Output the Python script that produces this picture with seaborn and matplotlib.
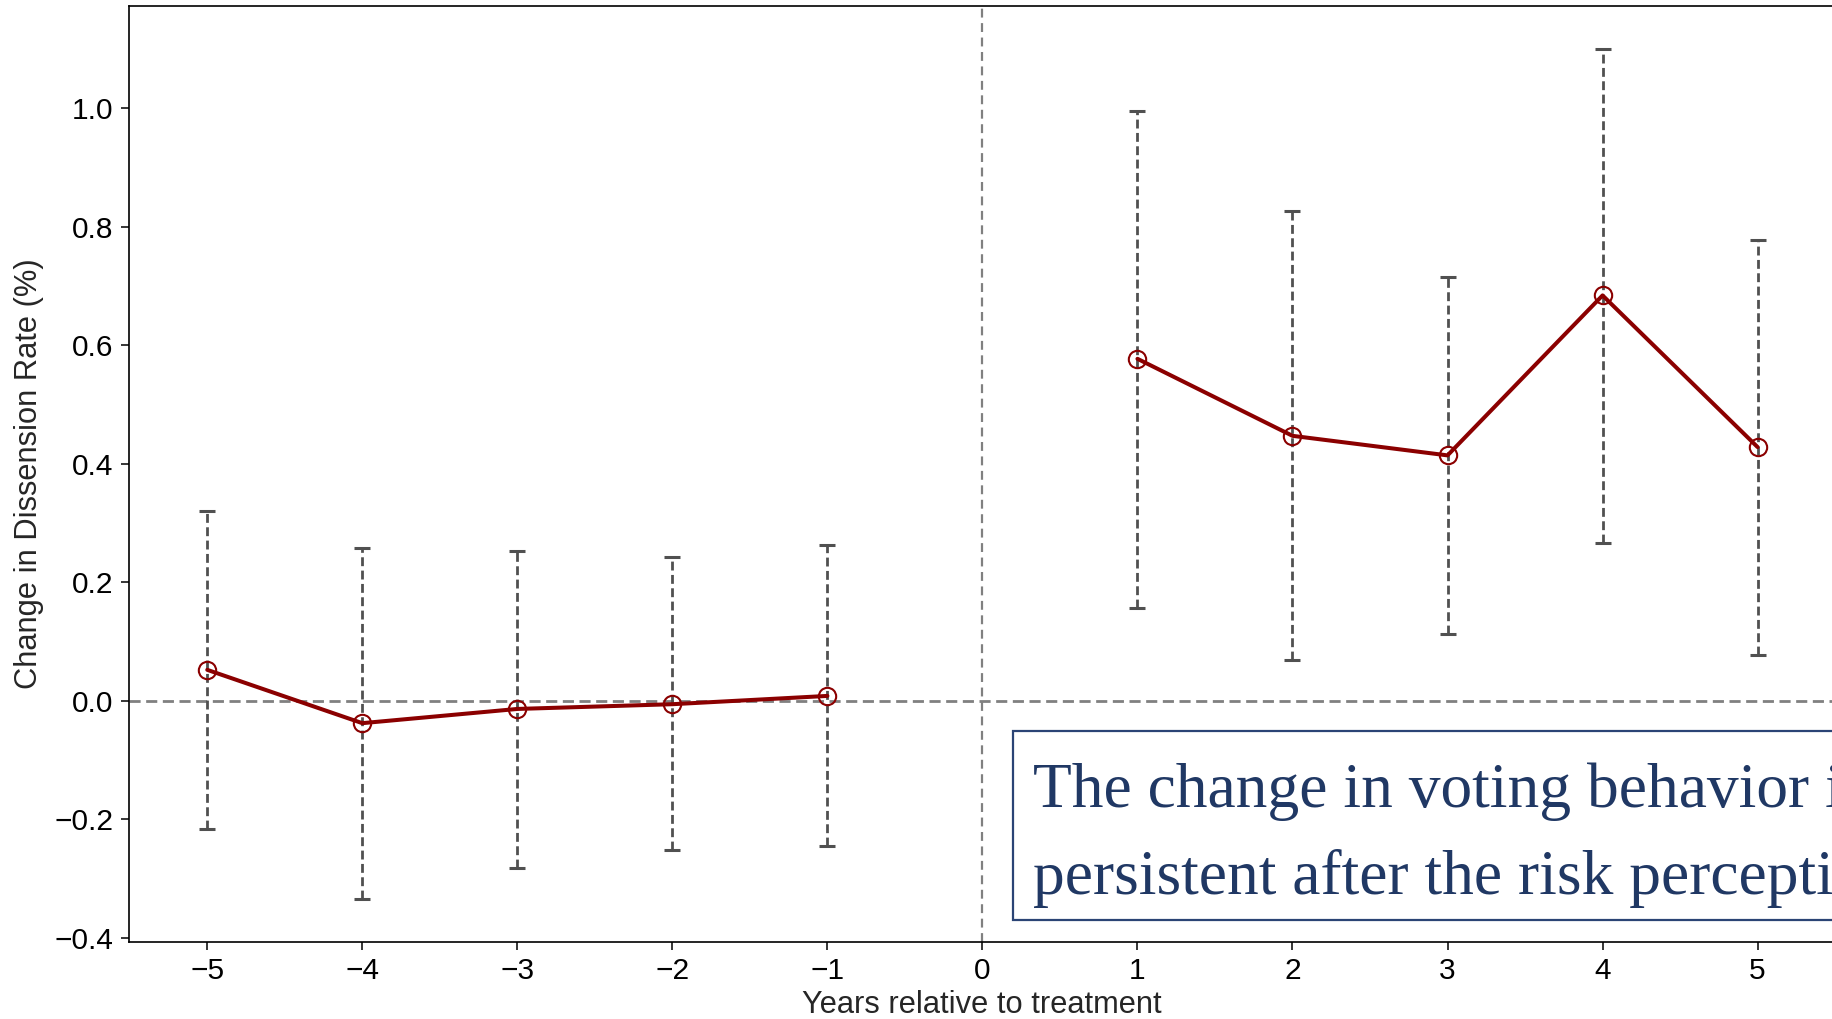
import matplotlib
matplotlib.use("Agg")
import matplotlib.pyplot as plt
import matplotlib.patches as mpatches
import numpy as np
import pandas as pd
import seaborn as sns

# event-study estimates
years = [-5, -4, -3, -2, -1, 1, 2, 3, 4, 5]
estimate = [0.052, -0.038, -0.014, -0.006, 0.008, 0.577, 0.447, 0.414, 0.684, 0.428]
ci_low = [-0.216, -0.335, -0.282, -0.252, -0.245, 0.157, 0.069, 0.112, 0.266, 0.077]
ci_high = [0.320, 0.258, 0.252, 0.242, 0.262, 0.996, 0.826, 0.715, 1.100, 0.778]

xticks = [-5, -4, -3, -2, -1, 0, 1, 2, 3, 4, 5]
yticks = [-0.4, -0.2, 0.0, 0.2, 0.4, 0.6, 0.8, 1.0]

note_lines = ["The change in voting behavior is",
              "persistent after the risk perception shock"]

df = pd.DataFrame({"year": years, "est": estimate, "lo": ci_low, "hi": ci_high})
pre = df[df.year < 0]
post = df[df.year > 0]

sns.set_theme(style="ticks")
plt.rcParams["font.family"] = ["Liberation Sans", "DejaVu Sans"]

fig = plt.figure(figsize=(18.32, 10.19), dpi=100)
ax = fig.add_axes([0.0704, 0.0759, 0.9313, 0.9182])

# reference lines
ax.axhline(0, color="#808080", lw=2, ls=(0, (4, 2)), zorder=1)
ax.axvline(0, color="#808080", lw=1.6, ls=(0, (4, 2.5)), zorder=1)

# confidence intervals
err = ax.errorbar(df.year, df.est,
                  yerr=[df.est - df.lo, df.hi - df.est],
                  fmt="none", ecolor="#505050", elinewidth=2,
                  capsize=6, capthick=2.2, zorder=2)
for col in err[2]:
    col.set_linestyle((0, (3.2, 1.6)))

# point estimates, pre and post segments separately
for part in (pre, post):
    sns.lineplot(data=part, x="year", y="est", ax=ax, color="#8B0000",
                 lw=2.9, marker="o", markersize=12.5, markerfacecolor="none",
                 markeredgecolor="#8B0000", markeredgewidth=1.5, zorder=3)

ax.set_xlim(-5.505, 5.5)
ax.set_ylim(-0.4068, 1.1725)
ax.set_xticks(xticks)
ax.set_yticks(yticks)
ax.set_xticklabels([str(v).replace("-", "\u2212") for v in xticks])
ax.set_yticklabels([f"{v:.1f}".replace("-", "\u2212") for v in yticks])
ax.tick_params(labelsize=21.5, length=6, width=1.1, pad=5, colors="black")
for s in ax.spines.values():
    s.set_linewidth(1.2)
    s.set_color("black")
ax.set_xlabel("Years relative to treatment", fontsize=22.2, labelpad=4)
ax.set_ylabel("Change in Dissension Rate (%)", fontsize=22.2, labelpad=8)

# annotation box (runs off the right edge, as in the original)
fig.patches.append(mpatches.Rectangle((0.5528, 0.0972), 0.6, 0.1855,
                                      transform=fig.transFigure,
                                      facecolor="white", edgecolor="#2B4475",
                                      lw=1.6, zorder=5))
fig.text(0.5639, 0.2080, note_lines[0], fontsize=45.7, va="baseline",
         color="#203864", family=["Liberation Serif", "DejaVu Serif"], zorder=6)
fig.text(0.5639, 0.1227, note_lines[1], fontsize=45.7, va="baseline",
         color="#203864", family=["Liberation Serif", "DejaVu Serif"], zorder=6)

fig.savefig("out.png", dpi=100)
